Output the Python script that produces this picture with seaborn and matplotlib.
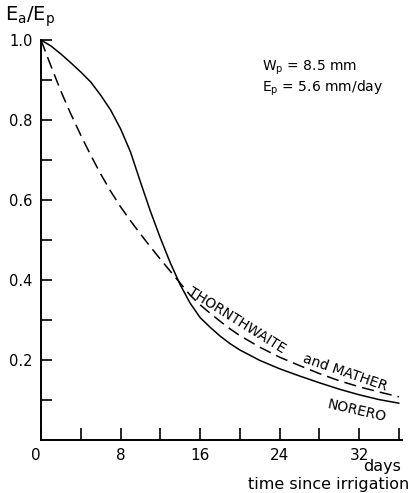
import matplotlib
matplotlib.use("Agg")
import matplotlib.pyplot as plt
import seaborn as sns
import pandas as pd
import numpy as np

# Relative evapotranspiration Ea/Ep against days since irrigation
days_norero = [0, 1, 2, 3, 4, 5, 6, 7, 8, 9, 10, 11, 12, 13, 14, 15, 16, 17, 18, 19, 20,
               22, 24, 26, 28, 30, 32, 34, 36]
ratio_norero = [1.0, 0.985, 0.965, 0.943, 0.92, 0.895, 0.862, 0.825, 0.778, 0.72, 0.645,
                0.572, 0.505, 0.443, 0.388, 0.342, 0.306, 0.282, 0.26, 0.241, 0.225,
                0.199, 0.178, 0.16, 0.143, 0.127, 0.113, 0.101, 0.092]

days_tm = [0, 1, 2, 3, 4, 5, 6, 7, 8, 9, 10, 11, 12, 13, 14, 15, 16, 17, 18, 19, 20,
           22, 24, 26, 28, 30, 32, 34, 36]
ratio_tm = [1.0, 0.935, 0.872, 0.815, 0.762, 0.712, 0.665, 0.622, 0.583, 0.548, 0.515,
            0.483, 0.452, 0.422, 0.392, 0.362, 0.338, 0.317, 0.297, 0.278, 0.261,
            0.232, 0.207, 0.186, 0.166, 0.148, 0.133, 0.12, 0.108]

x_ticks = [0, 8, 16, 24, 32]
y_ticks = [0.2, 0.4, 0.6, 0.8, 1.0]
y_tick_labels = ["0.2", "0.4", "0.6", "0.8", "1.0"]

sns.set_style("white")
plt.rcParams["font.family"] = ["DejaVu Sans"]
plt.rcParams["mathtext.fontset"] = "dejavusans"
plt.rcParams["text.color"] = "black"
plt.rcParams["xtick.color"] = "black"
plt.rcParams["ytick.color"] = "black"

fig = plt.figure(figsize=(4.11, 4.93), dpi=100)
ax = fig.add_axes([41 / 411, 53 / 493, 361 / 411, 400 / 493])

df = pd.concat([
    pd.DataFrame({"days": days_norero, "ratio": ratio_norero, "model": "NORERO"}),
    pd.DataFrame({"days": days_tm, "ratio": ratio_tm, "model": "THORNTHWAITE and MATHER"}),
])

sns.lineplot(data=df, x="days", y="ratio", style="model",
             dashes={"NORERO": "", "THORNTHWAITE and MATHER": (8, 4)},
             color="black", linewidth=1.1, legend=False, ax=ax)

ax.set_xlim(0, 36.3)
ax.set_ylim(0, 1.0)
for side in ("top", "right"):
    ax.spines[side].set_visible(False)
for side in ("left", "bottom"):
    ax.spines[side].set_color("black")
    ax.spines[side].set_linewidth(1.4)

ax.set_xticks(x_ticks)
ax.set_xticklabels([str(v) for v in x_ticks], fontsize=11)
ax.set_xticks(np.arange(4, 37, 8), minor=True)
ax.set_yticks(y_ticks)
ax.set_yticklabels(y_tick_labels, fontsize=10.5)
ax.set_yticks([0.1, 0.3, 0.5, 0.7, 0.9], minor=True)
ax.tick_params(which="both", direction="in", length=8, width=1.2, color="black",
               bottom=True, left=True, pad=6)
ax.tick_params(axis="x", which="both", length=9)
ax.get_xticklabels()[0].set_horizontalalignment("right")
ax.set_xlabel("")
ax.set_ylabel("")

# axis titles
fig.text(5 / 411, 1 - 17 / 493, r"$\mathregular{E_a/E_p}$", fontsize=14, va="center", ha="left")
fig.text(401 / 411, 1 - 467 / 493, "days", fontsize=11.5, ha="right", va="center")
fig.text(409 / 411, 1 - 484 / 493, "time since irrigation", fontsize=11.5, ha="right", va="center")

# parameters
ax.text(22.2, 0.930, r"$\mathregular{W_p}$ = 8.5 mm", fontsize=10, ha="left", va="center")
ax.text(22.2, 0.878, r"$\mathregular{E_p}$ = 5.6 mm/day", fontsize=10, ha="left", va="center")

# curve labels
ax.text(19.7, 0.30, "THORNTHWAITE", fontsize=10, rotation=-32,
        rotation_mode="anchor", ha="center", va="center")
ax.text(30.6, 0.168, "and MATHER", fontsize=10, rotation=-19,
        rotation_mode="anchor", ha="center", va="center")
ax.text(31.8, 0.072, "NORERO", fontsize=10, rotation=-13,
        rotation_mode="anchor", ha="center", va="center")

fig.savefig("out.png", dpi=100, facecolor="white")
